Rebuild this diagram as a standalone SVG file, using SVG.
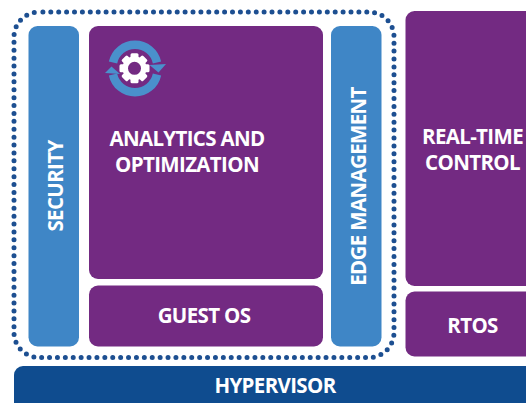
<svg xmlns="http://www.w3.org/2000/svg" width="526" height="403" viewBox="0 0 526 403">
<style>
.p{fill:#732a82}.b{fill:#3f86c6}.t{font-family:"Open Sans","Liberation Sans",sans-serif;font-weight:700;fill:#fff;font-size:20.500px;text-anchor:middle;letter-spacing:-.65px}
.i{fill:#4a90cc}.r{fill:none;stroke:#4a90cc;stroke-width:8.500}.g{fill:#fff}
</style>
<rect width="526" height="403" fill="#fff"/>
<g id="connectors"/>
<g id="boundary"><rect x="14" y="12" width="380" height="345.500" rx="25" fill="none" stroke="#1d4f91" stroke-width="5" stroke-linecap="round" stroke-dasharray="0 7.900" stroke-dashoffset="4"/></g>
<g id="security"><rect class="b" x="28.500" y="26" width="50.500" height="320.500" rx="9"/><text class="t" transform="translate(62.500 186) rotate(-90)">SECURITY</text></g>
<g id="analytics"><rect class="p" x="89" y="26" width="234" height="253" rx="9"/>
<g id="icon">
<path class="r" d="M113 62.500A22.500 22.500 0 0 1 157 62.500"/>
<path class="i" d="M149.500 65L166 64L158.500 72.500Z"/>
<path class="r" d="M157 74.500A22.500 22.500 0 0 1 113 74.500"/>
<path class="i" d="M105 73L120 74L111.500 66.500Z"/>
<circle class="g" cx="134.500" cy="68.300" r="12"/>
<g class="g"><rect x="130.500" y="53.300" width="8" height="30" rx="1.500"/><rect x="130.500" y="53.300" width="8" height="30" rx="1.500" transform="rotate(45 134.500 68.300)"/><rect x="130.500" y="53.300" width="8" height="30" rx="1.500" transform="rotate(90 134.500 68.300)"/><rect x="130.500" y="53.300" width="8" height="30" rx="1.500" transform="rotate(135 134.500 68.300)"/></g>
<circle class="p" cx="134.500" cy="68.300" r="6.500"/></g>
<text class="t"><tspan x="187" y="146">ANALYTICS AND</tspan><tspan x="187" y="172">OPTIMIZATION</tspan></text></g>
<g id="guest-os"><rect class="p" x="89" y="285.500" width="234" height="61" rx="9"/><text class="t" x="204" y="323">GUEST OS</text></g>
<g id="edge-management"><rect class="b" x="331" y="26" width="50.500" height="320.500" rx="9"/><text class="t" transform="translate(365.500 186.500) rotate(-90)">EDGE MANAGEMENT</text></g>
<g id="real-time-control"><rect class="p" x="405.500" y="11" width="140" height="275" rx="9"/><text class="t"><tspan x="472.500" y="143.500">REAL-TIME</tspan><tspan x="472.500" y="169.500">CONTROL</tspan></text></g>
<g id="rtos"><rect class="p" x="405.500" y="291.500" width="140" height="65" rx="9"/><text class="t" x="472.500" y="333">RTOS</text></g>
<g id="hypervisor"><rect x="14" y="366" width="540" height="60" rx="9" fill="#0f4c8f"/><text class="t" x="275" y="393">HYPERVISOR</text></g>
</svg>
